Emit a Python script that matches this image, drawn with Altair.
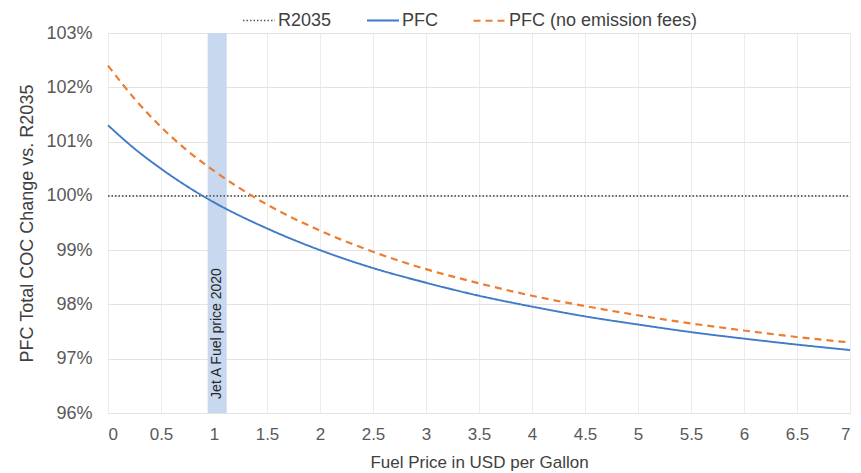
import altair as alt
import pandas as pd

# ---- data ----
fuel_price = [0, 0.25, 0.5, 0.75, 1, 1.5, 2, 2.5, 3, 3.5, 4, 4.5, 5, 5.5, 6, 6.5, 7]
pfc = [101.30, 100.87, 100.50, 100.17, 99.88, 99.40, 99.00, 98.67, 98.40, 98.16,
       97.96, 97.78, 97.63, 97.49, 97.37, 97.26, 97.16]
pfc_no_fees = [102.40, 101.79, 101.27, 100.83, 100.46, 99.84, 99.36, 98.97, 98.65, 98.39,
               98.16, 97.97, 97.80, 97.65, 97.52, 97.40, 97.30]
r2035_x = [0, 7]
r2035 = [100.0, 100.0]

series_names = ["R2035", "PFC", "PFC (no emission fees)"]
series_colors = ["#595959", "#3f7bc6", "#ed7d31"]
series_dash = [[1.5, 2], [1, 0], [7, 5]]
series_width = [1.6, 2.2, 2.4]

band_start = [0.94]
band_end = [1.12]
band_label = ["Jet A Fuel price 2020"]

rows = []
for x, v in zip(r2035_x, r2035):
    rows.append({"x": x, "y": v / 100, "series": "R2035"})
for x, v in zip(fuel_price, pfc):
    rows.append({"x": x, "y": v / 100, "series": "PFC"})
for x, v in zip(fuel_price, pfc_no_fees):
    rows.append({"x": x, "y": v / 100, "series": "PFC (no emission fees)"})
df = pd.DataFrame(rows)

band_df = pd.DataFrame({"x": band_start, "x2": band_end, "label": band_label,
                        "ty": [0.9626], "tx": [(band_start[0] + band_end[0]) / 2]})

FONT = "Liberation Sans"
x_ticks = [i * 0.25 for i in range(29)]

PLOT_W, PLOT_H = 742, 380

x_scale = alt.Scale(domain=[0, 7], nice=False, zero=False)
y_scale = alt.Scale(domain=[0.96, 1.03], nice=False, zero=False)

x_axis = alt.Axis(values=x_ticks, labelExpr="(datum.value * 2) % 1 == 0 ? datum.label : ''",
                  format="~g", labelOverlap=False, grid=True, gridColor="#ececec",
                  domain=False, ticks=False, labelFont=FONT, labelFontSize=17,
                  labelColor="#595959", labelPadding=13, title="Fuel Price in USD per Gallon",
                  titleFont=FONT, titleFontSize=17, titleFontWeight="normal",
                  titleColor="#404040", titlePadding=12)
y_axis = alt.Axis(values=[0.96, 0.97, 0.98, 0.99, 1.0, 1.01, 1.02, 1.03], format=".0%",
                  grid=True, gridColor="#e3e3e3", domain=False, ticks=False,
                  labelFont=FONT, labelFontSize=18, labelColor="#595959", labelPadding=16,
                  title="PFC Total COC Change vs. R2035", titleFont=FONT, titleFontSize=18,
                  titleFontWeight="normal", titleColor="#404040", titlePadding=9)

band = alt.Chart(band_df).mark_rect(color="#c8d8ef", opacity=1).encode(
    x=alt.X("x:Q", scale=x_scale, axis=x_axis),
    x2="x2:Q",
    y=alt.value(0),
    y2=alt.value(PLOT_H),
)

band_text = alt.Chart(band_df).mark_text(angle=270, align="left", baseline="middle",
                                         font=FONT, fontSize=14, color="#262626").encode(
    x=alt.X("tx:Q", scale=x_scale),
    y=alt.Y("ty:Q", scale=y_scale),
    text="label:N",
)

lines = alt.Chart(df).mark_line(interpolate="monotone").encode(
    x=alt.X("x:Q", scale=x_scale, axis=x_axis),
    y=alt.Y("y:Q", scale=y_scale, axis=y_axis),
    color=alt.Color("series:N", scale=alt.Scale(domain=series_names, range=series_colors),
                    legend=alt.Legend(title=None, orient="none", legendX=134, legendY=-30,
                                      direction="horizontal", symbolType="stroke",
                                      symbolSize=1024, symbolStrokeWidth=2, padding=0,
                                      labelFont=FONT, labelFontSize=18, labelColor="#404040",
                                      labelOffset=2, columnPadding=31, labelLimit=400)),
    strokeDash=alt.StrokeDash("series:N", scale=alt.Scale(domain=series_names, range=series_dash),
                              legend=None),
    strokeWidth=alt.StrokeWidth("series:N", scale=alt.Scale(domain=series_names, range=series_width),
                                legend=None),
    detail="series:N",
)

chart = alt.layer(band, lines, band_text).properties(
    width=PLOT_W, height=PLOT_H,
    autosize=alt.AutoSizeParams(type="none"),
    padding={"left": 100, "top": 25, "right": 3, "bottom": 60},
).configure_view(stroke=None).configure(background="white")

chart.save("out.html", embed_options={"renderer": "svg", "actions": False})
